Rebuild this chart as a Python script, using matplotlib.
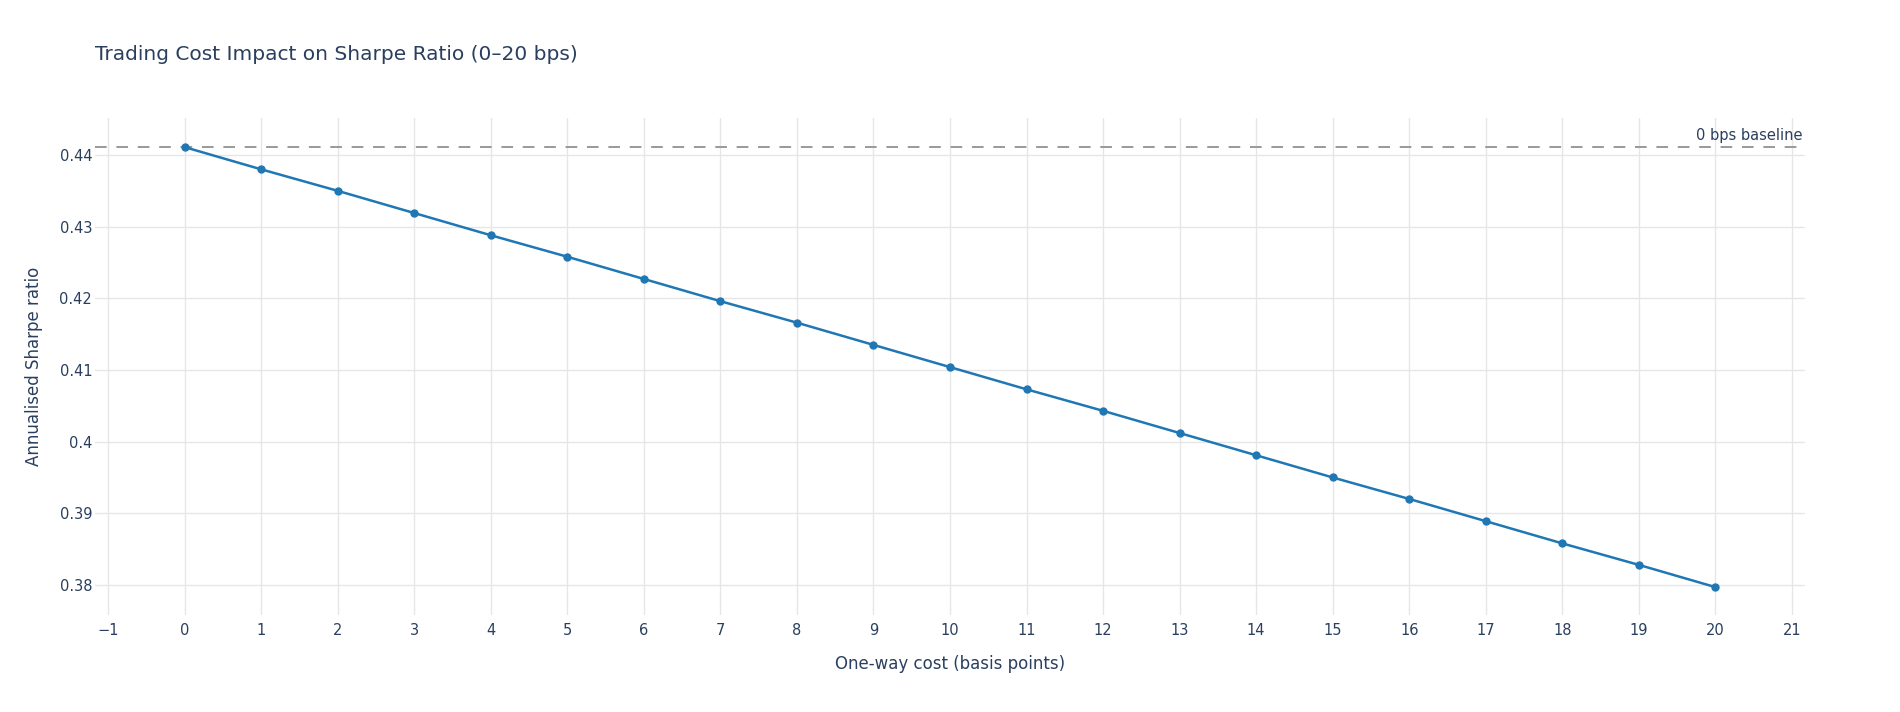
import matplotlib.pyplot as plt
from matplotlib.ticker import FuncFormatter, MultipleLocator

# data
cost_bps = list(range(0, 21))
sharpe = [0.4411, 0.4380, 0.4350, 0.4319, 0.4288, 0.4258, 0.4227, 0.4196,
          0.4166, 0.4135, 0.4104, 0.4073, 0.4043, 0.4012, 0.3981, 0.3950,
          0.3920, 0.3889, 0.3858, 0.3828, 0.3797]
baseline = sharpe[0]

text_col = '#2a3f5f'
grid_col = '#e6e6e6'

plt.rcParams['font.family'] = ['DejaVu Sans']

fig = plt.figure(figsize=(19, 7.12), dpi=100)
ax = fig.add_axes([0.05, 1 - 615 / 712, 0.90, (615 - 118) / 712])

ax.set_xlim(-1.17, 21.17)
ax.set_ylim(0.37581, 0.44516)

ax.xaxis.set_major_locator(MultipleLocator(1))
ax.yaxis.set_major_locator(MultipleLocator(0.01))
ax.yaxis.set_major_formatter(FuncFormatter(lambda v, p: ('%.2f' % v).rstrip('0').rstrip('.')))
ax.xaxis.set_major_formatter(FuncFormatter(lambda v, p: ('%d' % round(v)).replace('-', '\u2212')))

ax.grid(True, color=grid_col, linewidth=1)
ax.set_axisbelow(True)
# white zero line like plotly
ax.axvline(0, color='white', linewidth=2, zorder=0.5)

for s in ax.spines.values():
    s.set_visible(False)
ax.tick_params(length=0, labelsize=10.5, labelcolor=text_col)
ax.tick_params(axis='x', pad=6)
ax.tick_params(axis='y', pad=2)

# baseline
ax.axhline(baseline, color='#999999', linewidth=1.4, dashes=(6, 5), zorder=2)
ax.annotate('0 bps baseline', xy=(1.0, baseline), xycoords=('axes fraction', 'data'),
            xytext=(-2, 3), textcoords='offset points', ha='right', va='bottom',
            fontsize=10.5, color=text_col)

ax.plot(cost_bps, sharpe, color='#1f77b4', linewidth=1.8, marker='o', markersize=5, zorder=3)

ax.set_xlabel('One-way cost (basis points)', fontsize=12, color=text_col, labelpad=12)
ax.set_ylabel('Annualised Sharpe ratio', fontsize=12, color=text_col, labelpad=12)

fig.text(95 / 1900, 1 - 60 / 712, 'Trading Cost Impact on Sharpe Ratio (0\u201320 bps)',
         fontsize=14.5, color=text_col, ha='left', va='baseline')

plt.savefig('out.png', dpi=100)
